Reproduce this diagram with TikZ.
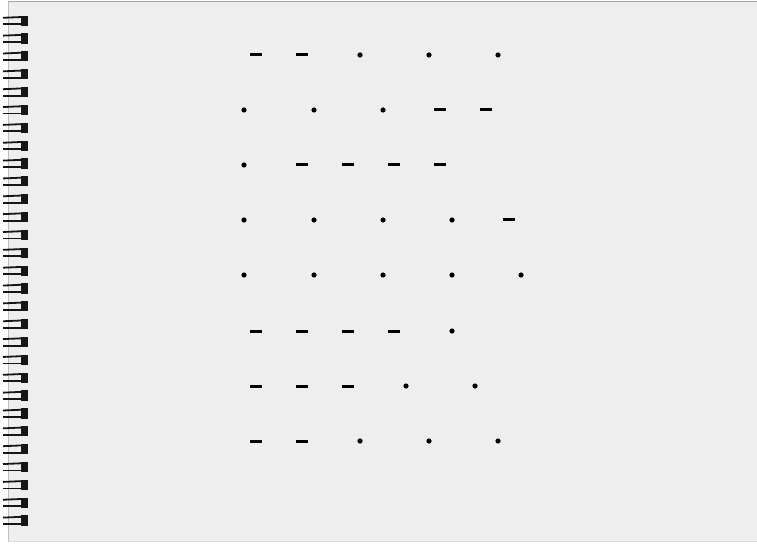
\documentclass[tikz,border=0pt]{standalone}
\definecolor{paper}{RGB}{239,238,238}
\definecolor{wire}{RGB}{22,22,22}
\tikzset{
  morsedot/.style={circle, fill=black, inner sep=0pt, minimum size=5.2pt},
  morsedash/.style={rectangle, fill=black, inner sep=0pt, minimum width=12pt, minimum height=3pt},
}
\begin{document}
\begin{tikzpicture}[x=1pt, y=-1pt]
\useasboundingbox (0,0) rectangle (757,545);
\fill[white] (0,0) rectangle (757,545);
% page
\fill[paper] (8,2) rectangle (757,541);
\draw[gray!70, line width=1pt] (8,1.5) -- (757,1.5);
\draw[red!20, line width=0.6pt] (8,541) -- (757,541);
\draw[gray!50, line width=0.5pt] (8,2) -- (8,541);
% spiral binding
\foreach \i in {0,...,28} {
  \pgfmathsetmacro{\ry}{20.8+17.85*\i}
  \draw[wire, line width=1.8pt] (3,\ry-3) -- (22,\ry-3.8);
  \draw[wire, line width=1.8pt] (3,\ry+3.5) -- (22,\ry+3.5);
  \fill[wire] (21,\ry-5.2) rectangle (27.5,\ry+5);
}
% morse rows
\foreach \x [count=\i] in {256,302} \node (r1a\i)[morsedash] at (\x,55) {};
\foreach \x [count=\i] in {360,429,498} \node (r1b\i)[morsedot] at (\x,55) {};
\foreach \x [count=\i] in {244,314,383} \node (r2a\i)[morsedot] at (\x,110) {};
\foreach \x [count=\i] in {440,486} \node (r2b\i)[morsedash] at (\x,110) {};
\node (r3a1)[morsedot] at (244,165) {};
\foreach \x [count=\i] in {302,348,394,440} \node (r3b\i)[morsedash] at (\x,165) {};
\foreach \x [count=\i] in {244,314,383,452} \node (r4a\i)[morsedot] at (\x,220) {};
\node (r4b1)[morsedash] at (509,220) {};
\foreach \x [count=\i] in {244,314,383,452,521} \node (r5a\i)[morsedot] at (\x,275) {};
\foreach \x [count=\i] in {256,302,348,394} \node (r6a\i)[morsedash] at (\x,331) {};
\node (r6b1)[morsedot] at (452,331) {};
\foreach \x [count=\i] in {256,302,348} \node (r7a\i)[morsedash] at (\x,386) {};
\foreach \x [count=\i] in {406,475} \node (r7b\i)[morsedot] at (\x,386) {};
\foreach \x [count=\i] in {256,302} \node (r8a\i)[morsedash] at (\x,441) {};
\foreach \x [count=\i] in {360,429,498} \node (r8b\i)[morsedot] at (\x,441) {};
\end{tikzpicture}
\end{document}
